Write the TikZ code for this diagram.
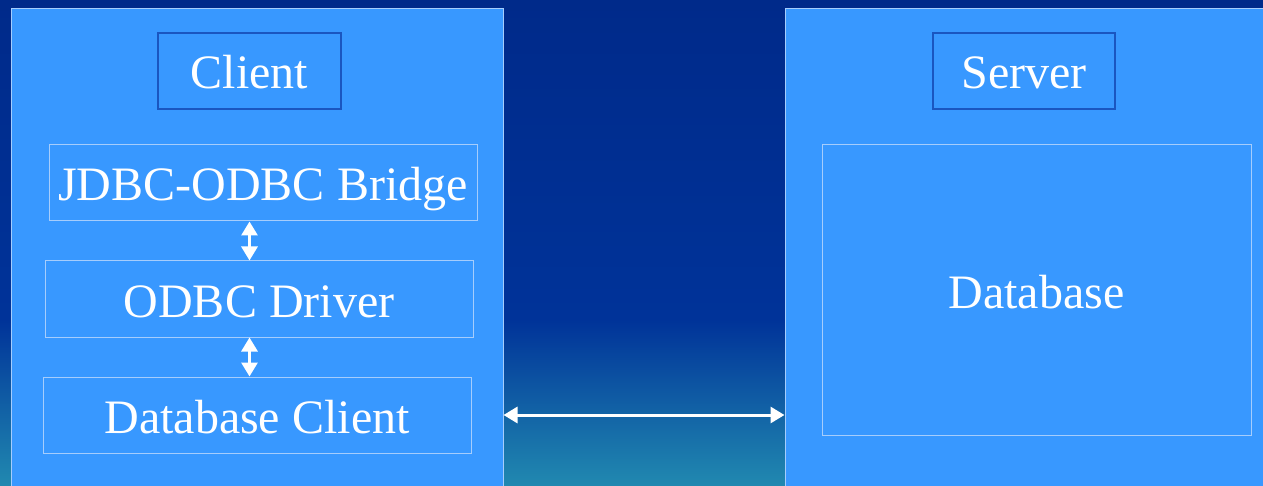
\documentclass[tikz,border=0pt]{standalone}
\usepackage{fontspec}
\setmainfont{Liberation Serif}
\usetikzlibrary{arrows.meta}

\definecolor{navy}{HTML}{002A8A}
\definecolor{royal}{HTML}{003399}
\definecolor{teal}{HTML}{2189B0}
\definecolor{panel}{HTML}{3898FF}
\definecolor{edge}{HTML}{A6CDFC}
\definecolor{titleedge}{HTML}{1A56C0}

\tikzset{
  side/.style={draw=edge, line width=0.5pt, fill=panel, inner sep=0pt},
  title/.style={draw=titleedge, line width=0.6pt, fill=panel, text=white, inner sep=0pt,
    minimum height=38pt, text height=22pt, text depth=4pt, font=\fontsize{24}{28}\selectfont},
  layer/.style={draw=edge, line width=0.5pt, text=white, inner sep=0pt,
    minimum width=214pt, minimum height=38pt, text height=22pt, text depth=4pt,
    font=\fontsize{24}{28}\selectfont},
  link/.style={white, line width=1.5pt, {Triangle[width=8pt,length=7pt]}-{Triangle[width=8pt,length=7pt]}}
}

\begin{document}
\begin{tikzpicture}[x=0.5pt, y=-0.5pt]
    \useasboundingbox (0,0) rectangle (1263,486);
    % backdrop
    \shade[top color=navy, bottom color=royal] (0,0) rectangle (1263,320);
    \shade[top color=royal, bottom color=teal] (0,320) rectangle (1263,486);

    \node[side, minimum width=246pt, minimum height=240.5pt] (clientside) at (257,249.5) {};
    \node[side, minimum width=240.5pt, minimum height=240.5pt] (serverside) at (1025.5,249.5) {};

    \node[title, minimum width=91.5pt] (client) at (249.5,71) {Client};
    \node[title, minimum width=91pt] (server) at (1024,71) {Server};

    \node[layer] (bridge) at (263,183) {JDBC-ODBC Bridge};
    \node[layer] (driver) at (259,299) {ODBC Driver};
    \node[layer] (dbclient) at (257,415) {Database Client};
    \node[layer, minimum width=214.5pt, minimum height=145pt] (database) at (1036.5,290) {Database};

    \draw[link] (bridge.south -| client) -- (driver.north -| client);
    \draw[link] (driver.south -| client) -- (dbclient.north -| client);
    \draw[link] (dbclient -| clientside.east) -- (dbclient -| serverside.west);
\end{tikzpicture}
\end{document}
